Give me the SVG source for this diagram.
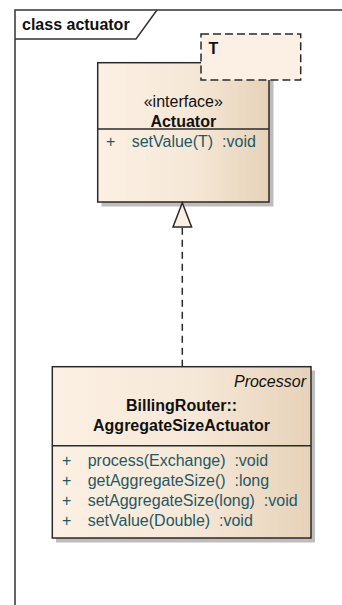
<svg xmlns="http://www.w3.org/2000/svg" width="342" height="605" viewBox="0 0 342 605">
<defs>
<linearGradient id="g" x1="0" y1="0" x2="1" y2="0">
<stop offset="0" stop-color="#FBF0E3"/>
<stop offset="0.55" stop-color="#F6E8D7"/>
<stop offset="1" stop-color="#E6D2B8"/>
</linearGradient>
<style>
.frame{fill:none;stroke:#333;stroke-width:1.5}
.box{fill:url(#g);stroke:#2a2a2a;stroke-width:1.5}
.shadow{fill:#bdbdbd}
.line{stroke:#2a2a2a;stroke-width:1.5}
text{font-family:"Liberation Sans",Arial,sans-serif;font-size:16px;fill:#111;white-space:pre}
.b{font-weight:bold}
.i{font-style:italic}
.m{fill:#1f5866}
.c{text-anchor:middle}
</style>
</defs>
<rect width="342" height="605" fill="#fff"/>
<g id="frame">
<path class="frame" d="M15,605 V10 H345"/>
<path class="frame" d="M15,39 H136 L157,10"/>
<text class="b" x="22" y="30">class actuator</text>
</g>
<g id="actuator">
<rect class="shadow" x="101.5" y="66.5" width="172" height="140"/>
<rect class="box" x="97.7" y="62.7" width="171.3" height="139.3"/>
<line class="line" x1="97.7" y1="129" x2="269" y2="129"/>
<text class="c" x="183.3" y="107">«interface»</text>
<text class="b c" x="183.3" y="126.5">Actuator</text>
<text class="m" x="106" y="147">+</text>
<text class="m" x="131.7" y="147" xml:space="preserve">setValue(T)  :void</text>
</g>
<g id="template-param">
<rect x="201" y="34" width="99.7" height="46" fill="#FBF0E3" stroke="#2a2a2a" stroke-width="1.5" stroke-dasharray="8,4"/>
<text class="b" x="208.5" y="54" fill="#3a0a2a">T</text>
</g>
<g id="billingrouter-aggregatesizeactuator">
<rect class="shadow" x="56" y="370.5" width="259" height="172"/>
<rect class="box" x="52.3" y="366.7" width="258.7" height="171.3"/>
<line class="line" x1="52.3" y1="445.7" x2="311" y2="445.7"/>
<text class="i" x="306" y="387" text-anchor="end">Processor</text>
<text class="b c" x="181.5" y="411">BillingRouter::</text>
<text class="b c" x="181.5" y="431">AggregateSizeActuator</text>
<text class="m" x="62" y="466">+</text>
<text class="m" x="87.7" y="466" xml:space="preserve">process(Exchange)  :void</text>
<text class="m" x="62" y="486">+</text>
<text class="m" x="87.7" y="486" xml:space="preserve">getAggregateSize()  :long</text>
<text class="m" x="62" y="506">+</text>
<text class="m" x="87.7" y="506" xml:space="preserve">setAggregateSize(long)  :void</text>
<text class="m" x="62" y="526">+</text>
<text class="m" x="87.7" y="526" xml:space="preserve">setValue(Double)  :void</text>
</g>
<g id="connectors">
<line class="line" x1="182.3" y1="366.7" x2="182.3" y2="227" stroke-dasharray="7,5"/>
<polygon points="182.3,202.8 173,227 191.6,227" fill="#FBF0E3" stroke="#2a2a2a" stroke-width="1.5" stroke-linejoin="miter"/>
</g>
</svg>
